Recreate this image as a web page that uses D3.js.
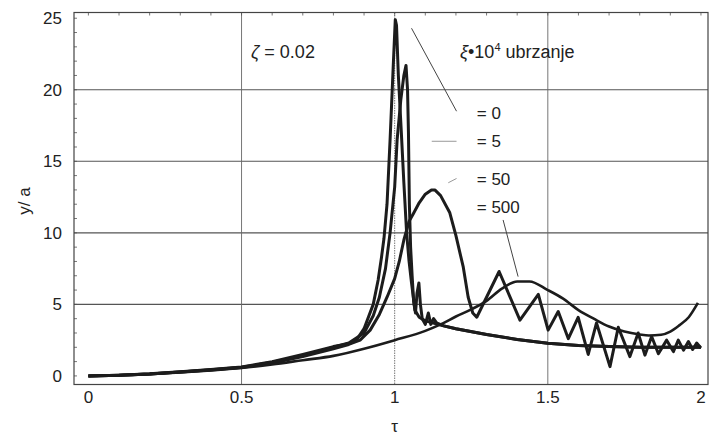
<!DOCTYPE html>
<html>
<head>
<meta charset="utf-8">
<script src="https://cdnjs.cloudflare.com/ajax/libs/d3/7.8.5/d3.min.js"></script>
<style>
	body { margin: 0; background: #fff; }
	text { font-family: "Liberation Sans", Arial, sans-serif; fill: #222; }
</style>
</head>
<body>
<div class="chart"></div>
<script>
// axis ticks
var xTicks = [0, 0.5, 1, 1.5, 2];
var xTickLabels = ["0", "0.5", "1", "1.5", "2"];
var yTicks = [0, 5, 10, 15, 20, 25];
var xGrid = [0.5, 1, 1.5];
var yGrid = [5, 10, 15, 20];

// xi*10^4 = 0
var tau0 = [0, 0.1, 0.2, 0.3, 0.4, 0.5, 0.6, 0.7, 0.8, 0.85, 0.875, 0.9, 0.93, 0.946, 0.957, 0.965, 0.975, 0.985, 0.995, 1.002,
	1.006, 1.012, 1.022, 1.03, 1.039, 1.047, 1.055, 1.066, 1.08, 1.1, 1.15, 1.2, 1.3, 1.4, 1.5, 1.6, 1.7, 1.8, 1.9, 2.0];
var amp0 = [0, 0.05, 0.15, 0.3, 0.45, 0.62, 1.0, 1.5, 2.05, 2.25, 2.5, 3.3, 5.0, 6.7, 8.3, 9.6, 12, 16.5, 21.5, 24.9,
	24.5, 21, 16.9, 13.5, 10, 8, 6.5, 4.6, 4.1, 3.85, 3.55, 3.3, 2.9, 2.55, 2.28, 2.12, 2.05, 2.0, 2.0, 2.0];

// xi*10^4 = 5
var tau5 = [0, 0.1, 0.2, 0.3, 0.4, 0.5, 0.6, 0.7, 0.8, 0.85, 0.9, 0.93, 0.95, 0.97, 0.985, 1.0, 1.008, 1.02, 1.03, 1.037,
	1.042, 1.045, 1.048, 1.052, 1.057, 1.062, 1.068, 1.073, 1.079, 1.084, 1.09, 1.1, 1.11, 1.118, 1.127, 1.137, 1.16,
	1.2, 1.3, 1.4, 1.5, 1.6, 1.7, 1.8, 1.9, 2.0];
var amp5 = [0, 0.05, 0.14, 0.28, 0.43, 0.6, 0.95, 1.4, 2.0, 2.3, 3.0, 4.2, 5.5, 7.5, 10, 13.2, 16.5, 19.3, 21, 21.7,
	20, 17, 12, 9, 7, 5.2, 4.4, 5.8, 6.5, 5.0, 4.0, 3.6, 4.4, 3.6, 4.0, 3.7, 3.5,
	3.3, 2.9, 2.55, 2.28, 2.12, 2.05, 2.0, 2.0, 2.0];

// xi*10^4 = 50
var tau50 = [0, 0.1, 0.2, 0.3, 0.4, 0.5, 0.6, 0.7, 0.8, 0.85, 0.887, 0.92, 0.95, 0.975, 1.0, 1.015, 1.03, 1.047, 1.06,
	1.08, 1.1, 1.12, 1.131, 1.15, 1.18, 1.2, 1.224, 1.24, 1.255, 1.268, 1.341, 1.409, 1.469, 1.501, 1.534, 1.567,
	1.599, 1.632, 1.659, 1.703, 1.73, 1.768, 1.795, 1.817, 1.839, 1.861, 1.888, 1.91, 1.926, 1.943, 1.959, 1.973,
	1.986, 2.0];
var amp50 = [0, 0.05, 0.13, 0.27, 0.42, 0.58, 0.9, 1.35, 1.9, 2.2, 2.5, 3.2, 4.3, 5.5, 6.8, 8.0, 9.5, 10.8, 11.3,
	12.1, 12.7, 13.0, 13.0, 12.6, 11.4, 9.8, 7.6, 5.5, 4.4, 4.1, 7.3, 3.9, 5.7, 3.2, 4.5, 2.6,
	4.1, 1.5, 3.7, 0.65, 3.4, 1.35, 3.0, 1.45, 2.75, 1.55, 2.5, 1.7, 2.5, 1.8, 2.4, 1.85,
	2.3, 1.95];

// xi*10^4 = 500
var tau500 = [0, 0.1, 0.2, 0.3, 0.4, 0.5, 0.6, 0.7, 0.8, 0.9, 1.0, 1.1, 1.15, 1.2, 1.25, 1.3, 1.35, 1.4, 1.44, 1.5,
	1.55, 1.6, 1.65, 1.7, 1.75, 1.8, 1.83, 1.87, 1.9, 1.93, 1.96, 1.99];
var amp500 = [0, 0.05, 0.12, 0.25, 0.38, 0.55, 0.8, 1.1, 1.4, 1.9, 2.5, 3.15, 3.6, 4.15, 4.65, 5.25, 6.1, 6.6, 6.6, 6.0,
	5.4, 4.6, 4.0, 3.45, 3.1, 2.9, 2.83, 2.88, 3.1, 3.55, 4.1, 5.1];

var seriesTau = [tau0, tau5, tau50, tau500];
var seriesAmp = [amp0, amp5, amp50, amp500];
var seriesWidth = [3, 3, 3, 2.6];

// legend labels and their leader lines (data units)
var seriesLabels = ["= 0", "= 5", "= 50", "= 500"];
var labelTau = [1.268, 1.268, 1.268, 1.268];
var labelAmp = [18.4, 16.4, 13.75, 11.8];
var leaderFrom = [[1.055, 24.3], [1.121, 16.4], [1.175, 13.5], [1.354, 10.9]];
var leaderTo = [[1.202, 18.5], [1.202, 16.4], [1.202, 13.8], [1.403, 6.94]];

drawChart();

function drawChart() {
	var W = 710, H = 435;
	var left = 74, right = 708, top = 12.5, bottom = 384.5;

	var svg = d3.select(".chart")
				.append("svg")
				.attr("width", W)
				.attr("height", H);

	var x = d3.scaleLinear().domain([-0.047, 2.023]).range([left, right]);
	var y = d3.scaleLinear().domain([-0.6, 25.4]).range([bottom, top]);

	// grid
	svg.selectAll(".hgrid").data(yGrid).enter().append("line")
		.attr("x1", left).attr("x2", right)
		.attr("y1", function(d) { return y(d); })
		.attr("y2", function(d) { return y(d); })
		.attr("stroke", "#555").attr("stroke-width", 1.1);
	svg.selectAll(".vgrid").data(xGrid).enter().append("line")
		.attr("y1", top).attr("y2", bottom)
		.attr("x1", function(d) { return x(d); })
		.attr("x2", function(d) { return x(d); })
		.attr("stroke", "#666").attr("stroke-width", 0.9)
		.attr("stroke-dasharray", function(d) { return d == 1 ? "1.5,1" : null; });

	// minor ticks on the frame
	var minorX = d3.range(0, 2.001, 0.1);
	svg.selectAll(".mtx").data(minorX).enter().append("line")
		.attr("x1", function(d) { return x(d); })
		.attr("x2", function(d) { return x(d); })
		.attr("y1", top).attr("y2", top + 3)
		.attr("stroke", "#555").attr("stroke-width", 0.8);
	var minorY = d3.range(0, 25.01, 1);
	svg.selectAll(".mty").data(minorY).enter().append("line")
		.attr("x1", left).attr("x2", left + 3)
		.attr("y1", function(d) { return y(d); })
		.attr("y2", function(d) { return y(d); })
		.attr("stroke", "#555").attr("stroke-width", 0.8);

	// frame
	svg.append("rect")
		.attr("x", left).attr("y", top)
		.attr("width", right - left).attr("height", bottom - top)
		.attr("fill", "none").attr("stroke", "#444").attr("stroke-width", 1.2);

	// tick labels
	svg.selectAll(".xl").data(xTicks).enter().append("text")
		.attr("x", function(d) { return x(d); })
		.attr("y", 403)
		.attr("text-anchor", "middle")
		.style("font-size", "17px")
		.text(function(d, i) { return xTickLabels[i]; });
	svg.selectAll(".yl").data(yTicks).enter().append("text")
		.attr("x", 62)
		.attr("y", function(d) { return y(d) + 6; })
		.attr("text-anchor", "end")
		.style("font-size", "17px")
		.text(function(d) { return d; });

	// axis titles
	svg.append("text")
		.attr("transform", "translate(30,201) rotate(-90)")
		.attr("text-anchor", "middle")
		.style("font-size", "17px")
		.text("y/ a");
	svg.append("text")
		.attr("x", x(1)).attr("y", 432)
		.attr("text-anchor", "middle")
		.style("font-size", "17px")
		.text("τ");

	// curves
	var line = d3.line()
		.x(function(d) { return x(d[0]); })
		.y(function(d) { return y(d[1]); });
	for (var s = 0; s < seriesTau.length; s++) {
		var pts = d3.zip(seriesTau[s], seriesAmp[s]);
		svg.append("path")
			.attr("d", line.curve(s == 3 ? d3.curveMonotoneX : d3.curveLinear)(pts))
			.attr("fill", "none")
			.attr("stroke", "#1c1c1c")
			.attr("stroke-width", seriesWidth[s])
			.attr("stroke-linejoin", "round");
	}

	// annotations
	svg.append("text")
		.attr("x", 251).attr("y", 58)
		.style("font-size", "18px")
		.html('<tspan font-style="italic">ζ</tspan> = 0.02');
	svg.append("text")
		.attr("x", 460).attr("y", 58)
		.style("font-size", "18px")
		.html('<tspan font-style="italic">ξ</tspan>•10<tspan dy="-7" font-size="11px">4</tspan><tspan dy="7"> ubrzanje</tspan>');

	for (var i = 0; i < seriesLabels.length; i++) {
		svg.append("line")
			.attr("x1", x(leaderFrom[i][0])).attr("y1", y(leaderFrom[i][1]))
			.attr("x2", x(leaderTo[i][0])).attr("y2", y(leaderTo[i][1]))
			.attr("stroke", i == 1 || i == 2 ? "#999" : "#444")
			.attr("stroke-width", 1);
		svg.append("text")
			.attr("x", x(labelTau[i]))
			.attr("y", y(labelAmp[i]) + 6)
			.style("font-size", "17px")
			.text(seriesLabels[i]);
	}
}
</script>
</body>
</html>
